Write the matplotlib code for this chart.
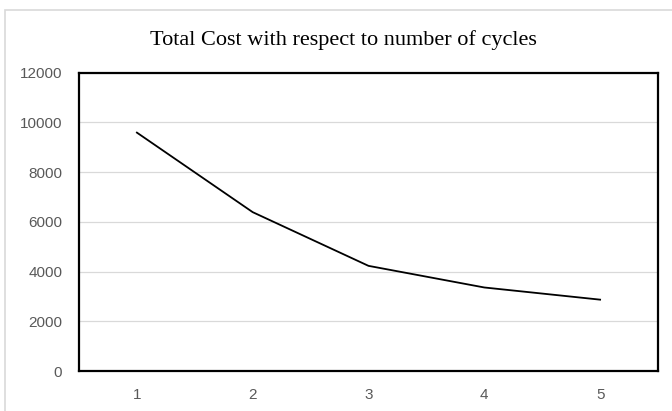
import matplotlib
matplotlib.use("Agg")
import matplotlib.pyplot as plt
from matplotlib.patches import Rectangle

cycles = ["1", "2", "3", "4", "5"]
total_cost = [9590, 6390, 4230, 3360, 2870]
y_ticks = [0, 2000, 4000, 6000, 8000, 10000, 12000]

fig = plt.figure(figsize=(6.72, 4.11), dpi=100)

# light frame around the whole chart
fig.patches.append(Rectangle((5 / 672, -0.05), 1.0, 1 - 10 / 411 + 0.05,
                             transform=fig.transFigure, fill=False,
                             edgecolor="#d9d9d9", linewidth=1.2))

ax = fig.add_axes([79 / 672, 1 - 371 / 411, (658 - 79) / 672, (371 - 72.7) / 411])

x = range(1, len(cycles) + 1)
ax.plot(x, total_cost, color="black", linewidth=1.3, solid_joinstyle="round")

ax.set_xlim(0.5, len(cycles) + 0.5)
ax.set_ylim(0, 12000)
ax.set_xticks(list(x))
ax.set_xticklabels(cycles)
ax.set_yticks(y_ticks)
ax.set_yticklabels([str(v) for v in y_ticks])

ax.grid(axis="y", color="#d9d9d9", linewidth=0.9)
ax.set_axisbelow(True)
ax.tick_params(length=0, labelsize=11, labelcolor="#595959", pad=10)
for lab in ax.get_xticklabels() + ax.get_yticklabels():
    lab.set_family("Liberation Sans")
ax.tick_params(axis="y", pad=12)
ax.tick_params(axis="x", pad=12)
for sp in ax.spines.values():
    sp.set_color("black")
    sp.set_linewidth(1.6)

fig.text(343 / 672, 1 - 45 / 411, "Total Cost with respect to number of cycles",
         ha="center", va="baseline", family="Liberation Serif", fontsize=16)

fig.savefig("out.png", dpi=100)
